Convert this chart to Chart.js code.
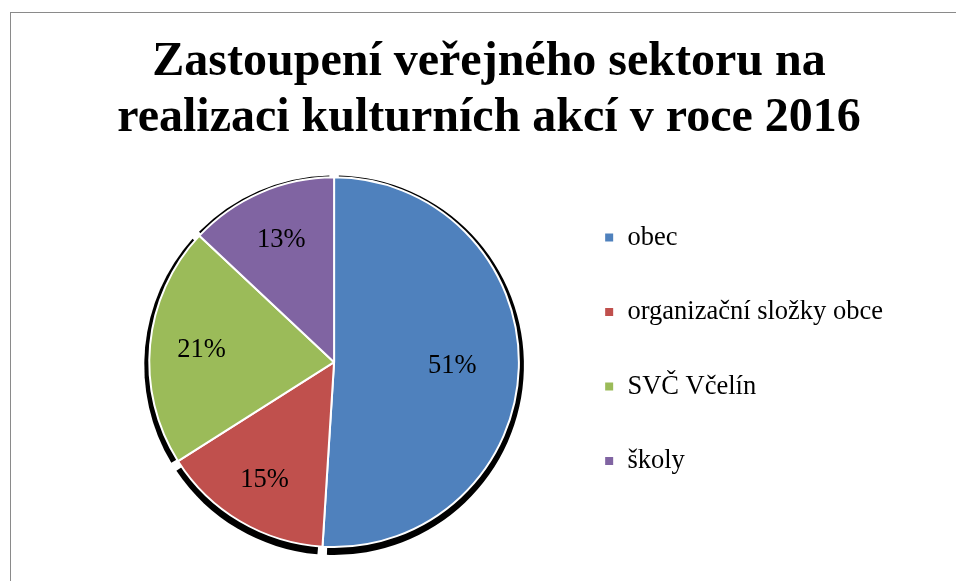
<!DOCTYPE html>
<html>
<head>
<meta charset="utf-8">
<script src="https://cdn.jsdelivr.net/npm/chart.js@4"></script>
<style>
  html, body { margin: 0; padding: 0; background: #fff; overflow: hidden; }
  #frame { position: absolute; left: 10px; top: 12px; width: 1200px; height: 800px; border: 1px solid #8a8a8a; box-sizing: border-box; }
  #c { position: absolute; left: 0; top: 0; }
</style>
</head>
<body>
<div id="frame"></div>
<canvas id="c" width="956" height="581"></canvas>
<script>
const titleLines = ['Zastoupení veřejného sektoru na', 'realizaci kulturních akcí v roce 2016'];
const categories = ['obec', 'organizační složky obce', 'SVČ Včelín', 'školy'];
const values = [51, 15, 21, 13];
const colors = ['#4F81BD', '#C0504D', '#9BBB59', '#8064A2'];

const serif = '"Liberation Serif", "Times New Roman", serif';

const shadowPlugin = {
  id: 'sliceShadow',
  beforeDatasetsDraw(chart) {
    const meta = chart.getDatasetMeta(0);
    const ctx = chart.ctx;
    ctx.save();
    ctx.fillStyle = '#000';
    meta.data.forEach(arc => {
      const p = arc.getProps(['x', 'y', 'startAngle', 'endAngle', 'outerRadius'], true);
      const gap = 0.025;
      ctx.beginPath();
      ctx.moveTo(p.x, p.y + 3);
      ctx.arc(p.x, p.y + 3, p.outerRadius + 5, p.startAngle + gap, p.endAngle - gap);
      ctx.closePath();
      ctx.fill();
    });
    ctx.restore();
  }
};

const labelPlugin = {
  id: 'sliceLabels',
  afterDatasetsDraw(chart, args, opts) {
    const meta = chart.getDatasetMeta(0);
    const ctx = chart.ctx;
    const data = chart.data.datasets[0].data;
    const total = data.reduce((a, b) => a + b, 0);
    ctx.save();
    ctx.font = '26.5px ' + serif;
    ctx.fillStyle = '#000';
    ctx.textAlign = 'center';
    ctx.textBaseline = 'middle';
    meta.data.forEach((arc, i) => {
      const p = arc.getProps(['x', 'y', 'startAngle', 'endAngle', 'outerRadius'], true);
      const mid = (p.startAngle + p.endAngle) / 2;
      const r = p.outerRadius * opts.radii[i];
      const pct = Math.round(data[i] / total * 100) + '%';
      ctx.fillText(pct, p.x + Math.cos(mid) * r, p.y + Math.sin(mid) * r);
    });
    ctx.restore();
  }
};

new Chart(document.getElementById('c'), {
  type: 'pie',
  data: {
    labels: categories,
    datasets: [{
      data: values,
      backgroundColor: colors,
      borderColor: '#ffffff',
      borderWidth: 2
    }]
  },
  options: {
    responsive: false,
    animation: false,
    layout: { padding: { left: 85, right: 63, top: 0, bottom: 33 } },
    plugins: {
      title: {
        display: true,
        text: titleLines,
        color: '#000',
        font: { family: serif, size: 48, weight: 'bold', lineHeight: 1.16 },
        padding: { top: 35, bottom: 30 }
      },
      subtitle: {
        display: true,
        position: 'left',
        fullSize: false,
        text: '',
        font: { size: 10, lineHeight: 1 },
        padding: { top: 8, bottom: 9 }
      },
      legend: {
        position: 'right',
        align: 'start',
        fullSize: false,
        maxWidth: 420,
        labels: {
          color: '#000',
          font: { family: serif, size: 26.5 },
          boxWidth: 10,
          boxHeight: 10,
          padding: 48
        }
      },
      tooltip: { enabled: false },
      sliceLabels: { radii: [0.64, 0.74, 0.72, 0.72] }
    }
  },
  plugins: [shadowPlugin, labelPlugin]
});
</script>
</body>
</html>
